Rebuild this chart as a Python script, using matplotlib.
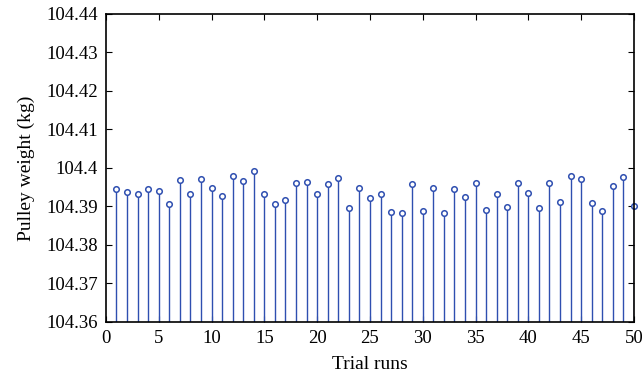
import matplotlib
matplotlib.use('Agg')
import matplotlib.pyplot as plt
import numpy as np

# Trial data
trials = np.arange(1, 51)
weights = [104.3946, 104.3938, 104.3932, 104.3946, 104.3940, 104.3906, 104.3969, 104.3933,
           104.3970, 104.3949, 104.3928, 104.3978, 104.3967, 104.3992, 104.3931, 104.3906,
           104.3917, 104.3962, 104.3964, 104.3931, 104.3958, 104.3975, 104.3897, 104.3949,
           104.3923, 104.3932, 104.3885, 104.3884, 104.3958, 104.3887, 104.3949, 104.3884,
           104.3946, 104.3924, 104.3961, 104.3891, 104.3931, 104.3899, 104.3960, 104.3936,
           104.3895, 104.3961, 104.3912, 104.3978, 104.3971, 104.3908, 104.3888, 104.3953,
           104.3977, 104.3901]
y_ticks = [104.36, 104.37, 104.38, 104.39, 104.4, 104.41, 104.42, 104.43, 104.44]
y_labels = ['104.36', '104.37', '104.38', '104.39', '104.4', '104.41', '104.42', '104.43', '104.44']
x_ticks = [0, 5, 10, 15, 20, 25, 30, 35, 40, 45, 50]

plt.rcParams['font.family'] = ['Liberation Serif', 'DejaVu Serif']
plt.rcParams['font.size'] = 13.5

fig = plt.figure(figsize=(6.42, 3.86), dpi=100)
ax = fig.add_axes([0.165, 0.166, 0.8225, 0.798])

blue = '#2f4fb0'
markerline, stemlines, baseline = ax.stem(trials, weights, bottom=104.36, basefmt=' ')
stemlines.set_color(blue)
stemlines.set_linewidth(1.0)
markerline.set_marker('o')
markerline.set_markersize(4)
markerline.set_markerfacecolor('white')
markerline.set_markeredgecolor(blue)
markerline.set_markeredgewidth(1.1)
markerline.set_clip_on(False)

ax.set_xlim(0, 50)
ax.set_ylim(104.36, 104.44)
ax.set_xticks(x_ticks)
ax.set_yticks(y_ticks)
ax.set_yticklabels(y_labels)
ax.tick_params(direction='in', top=True, right=True, length=4, width=0.8, pad=6)
for s in ax.spines.values():
    s.set_linewidth(1.2)

ax.set_xlabel('Trial runs', fontsize=14, labelpad=6)
ax.set_ylabel('Pulley weight (kg)', fontsize=14, labelpad=8)

fig.savefig('out.png', dpi=100)
